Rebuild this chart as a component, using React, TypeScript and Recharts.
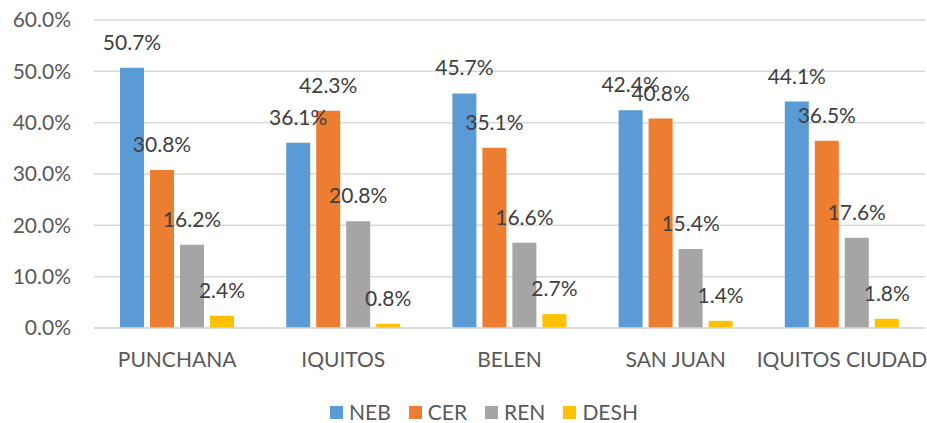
import { BarChart, Bar, XAxis, YAxis, CartesianGrid, Legend, LabelList } from "recharts";

const districts = ["PUNCHANA", "IQUITOS", "BELEN", "SAN JUAN", "IQUITOS CIUDAD"];
const neb = [50.7, 36.1, 45.7, 42.4, 44.1];
const cer = [30.8, 42.3, 35.1, 40.8, 36.5];
const ren = [16.2, 20.8, 16.6, 15.4, 17.6];
const desh = [2.4, 0.8, 2.7, 1.4, 1.8];
const yTicks = [0, 10, 20, 30, 40, 50, 60];

const series = [
  { key: "NEB", values: neb, color: "#5B9BD5" },
  { key: "CER", values: cer, color: "#ED7D31" },
  { key: "REN", values: ren, color: "#A5A5A5" },
  { key: "DESH", values: desh, color: "#FFC000" },
];

const data = districts.map((name, i) => {
  const row: Record<string, string | number> = { name };
  series.forEach((s) => (row[s.key] = s.values[i]));
  return row;
});

const FONT = "Lato, 'Noto Sans', sans-serif";
const pct = (v: number) => v.toFixed(1) + "%";

function LegendBox() {
  return (
    <div
      style={{
        display: "flex",
        alignItems: "center",
        whiteSpace: "nowrap",
        lineHeight: "26px",
        fontFamily: FONT,
        fontSize: 21,
        color: "#595959",
      }}
    >
      {series.map((s) => (
        <div key={s.key} style={{ display: "flex", alignItems: "center", marginRight: 18 }}>
          <span style={{ width: 13, height: 13, background: s.color, display: "inline-block", marginRight: 6 }} />
          <span>{s.key}</span>
        </div>
      ))}
    </div>
  );
}

export default function App() {
  return (
    <div style={{ position: "absolute", left: 0, top: 0, width: 927, height: 423, background: "#fff" }}>
      <BarChart
        width={927}
        height={423}
        data={data}
        margin={{ top: 20, right: 2, left: 0, bottom: 0 }}
        barSize={24}
        barGap={6}
      >
        <CartesianGrid vertical={false} stroke="#d9d9d9" strokeWidth={1.5} />
        <XAxis
          dataKey="name"
          height={95}
          tickLine={false}
          tickSize={0}
          tickMargin={24}
          axisLine={{ stroke: "#d9d9d9", strokeWidth: 1.5 }}
          tick={{ fontSize: 21, fill: "#595959", fontFamily: FONT }}
          interval={0}
        />
        <YAxis
          width={94}
          domain={[0, 60]}
          ticks={yTicks}
          tickFormatter={pct}
          axisLine={false}
          tickLine={false}
          tickSize={0}
          tickMargin={23}
          tick={{ fontSize: 21, fill: "#595959", fontFamily: FONT }}
        />
        <Legend
          layout="horizontal"
          verticalAlign="middle"
          align="center"
          content={() => <LegendBox />}
          wrapperStyle={{ top: 399, left: 330, width: 340, height: 26 }}
        />
        {series.map((s) => (
          <Bar key={s.key} dataKey={s.key} fill={s.color} isAnimationActive={false}>
            <LabelList
              dataKey={s.key}
              position="top"
              offset={18}
              formatter={(v: number) => pct(v)}
              style={{ fontSize: 21, fill: "#404040", fontFamily: FONT }}
            />
          </Bar>
        ))}
      </BarChart>
    </div>
  );
}
